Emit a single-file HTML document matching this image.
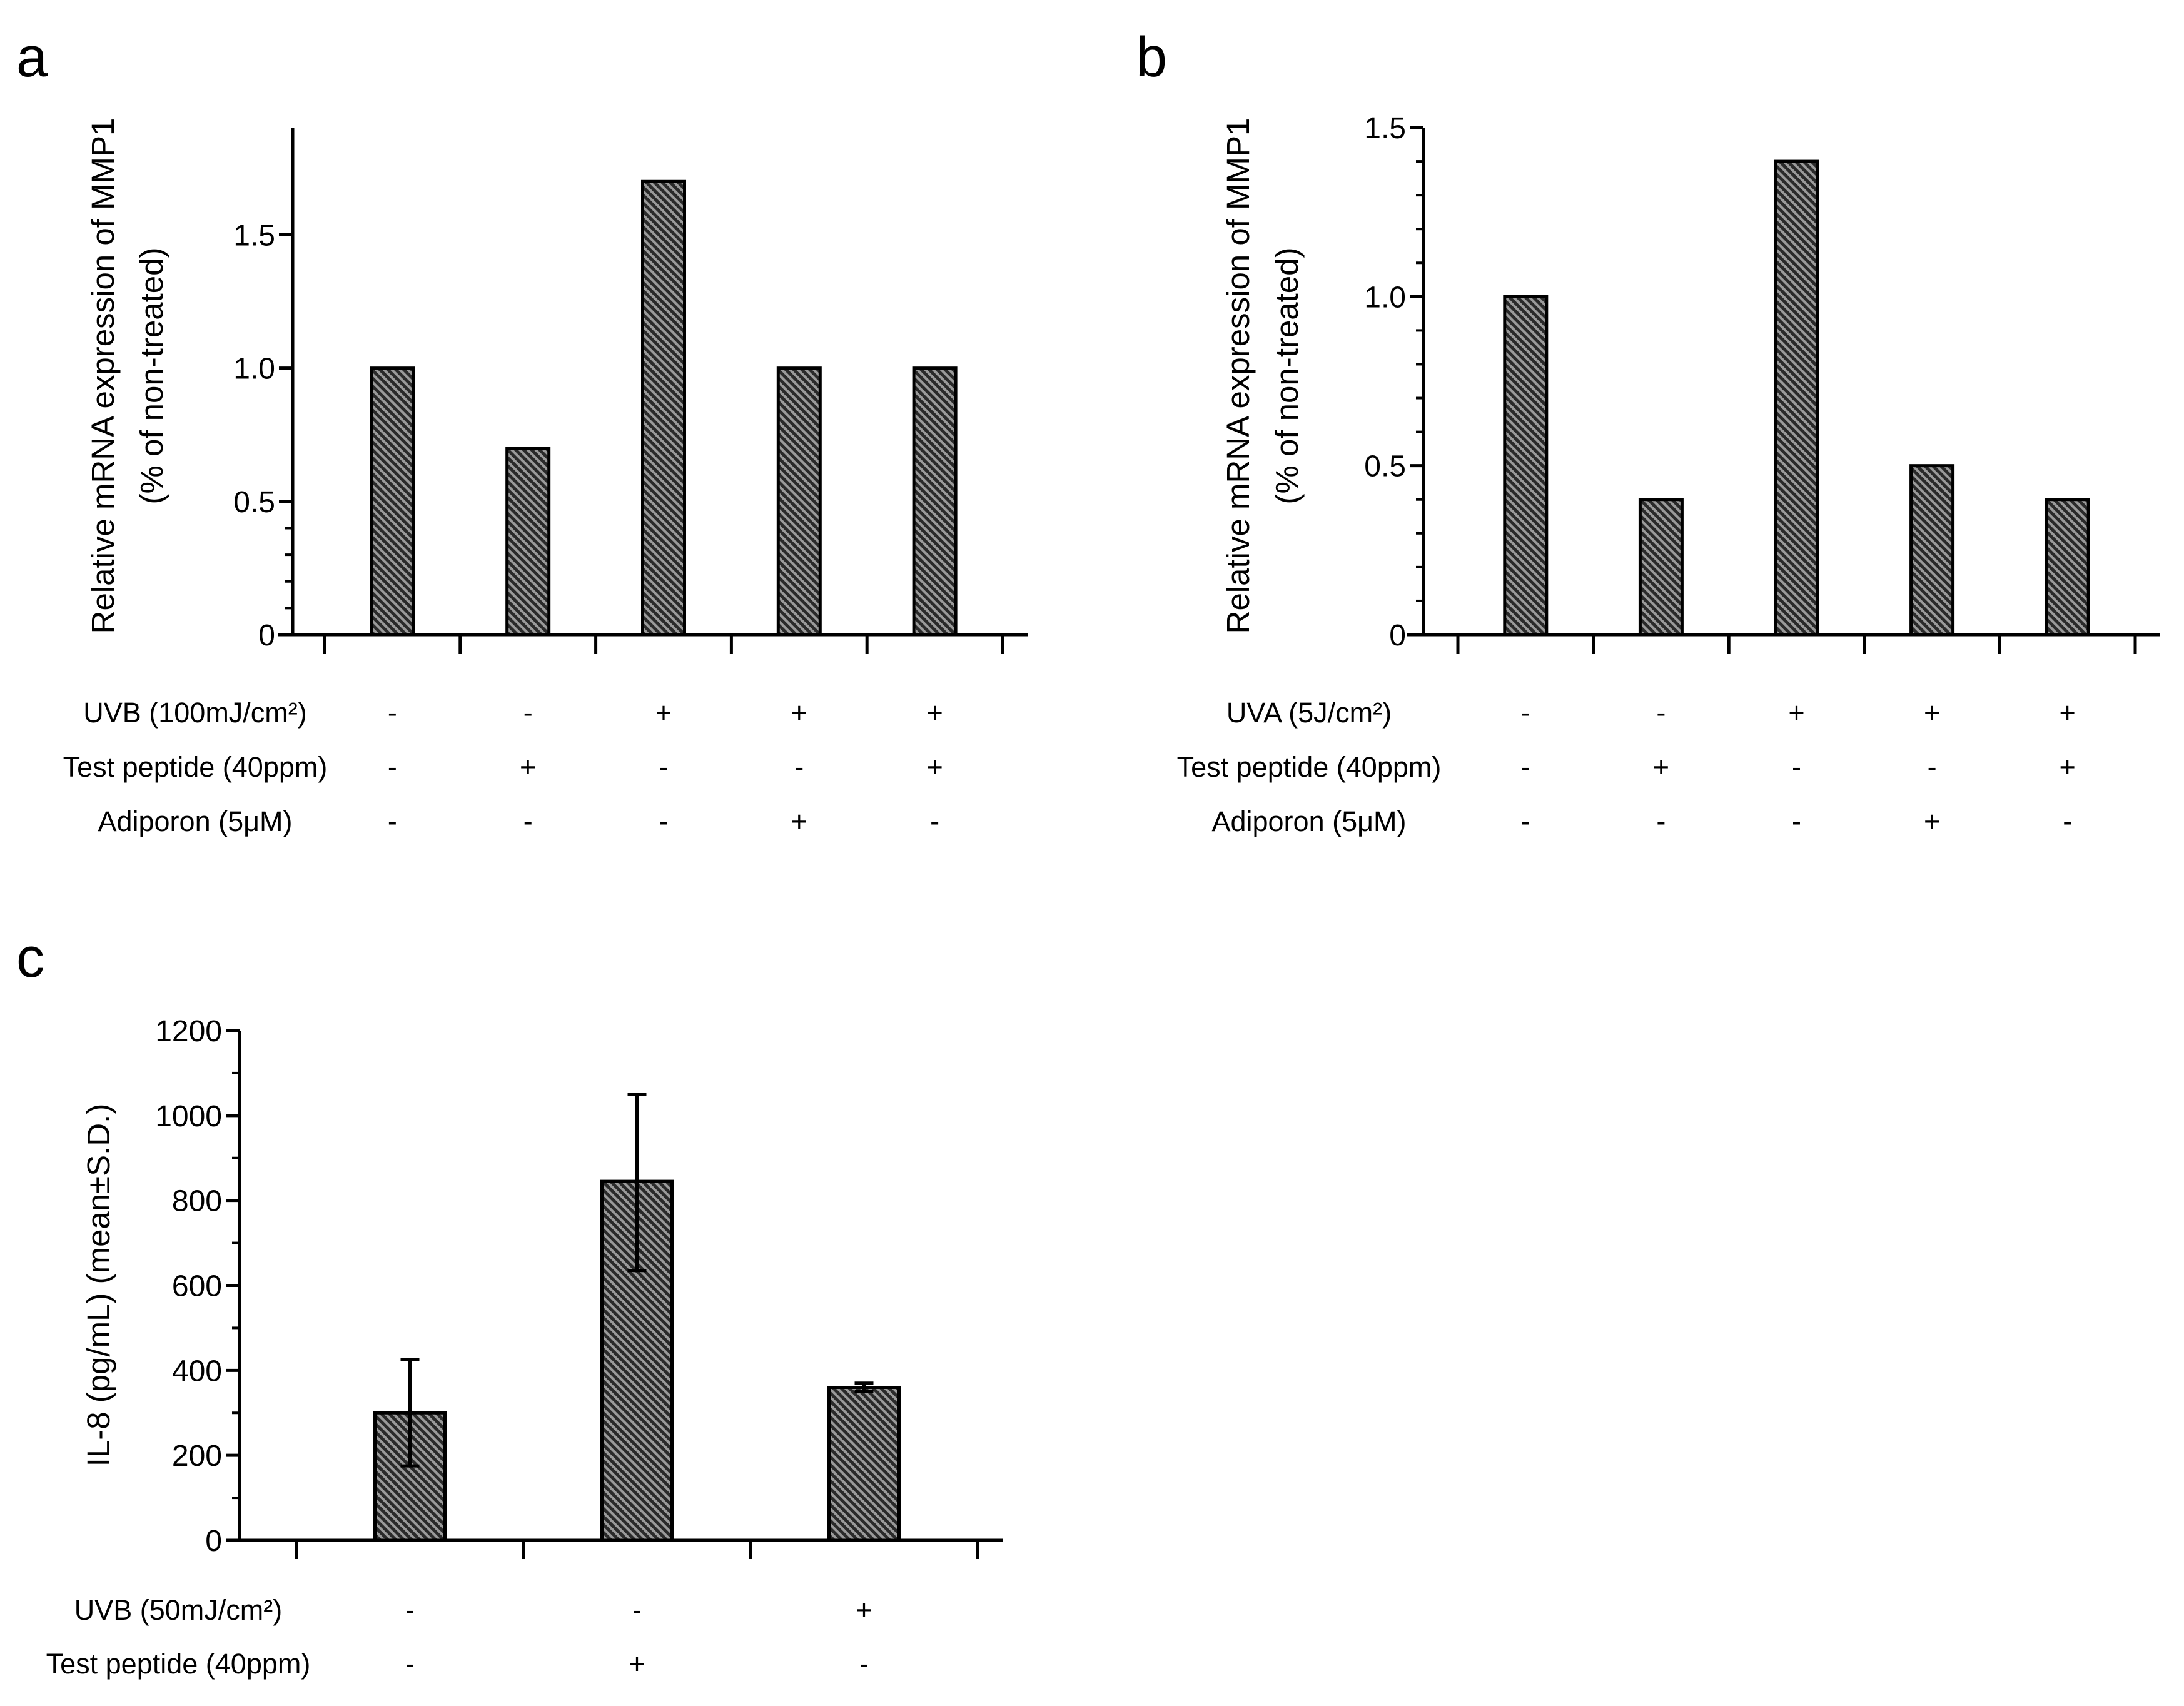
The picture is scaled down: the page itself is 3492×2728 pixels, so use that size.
<!DOCTYPE html>
<html><head><meta charset="utf-8"><style>
body{margin:0;background:#fff}
svg{display:block;font-family:"Liberation Sans",sans-serif}
</style></head><body>
<svg id="fig" width="3492" height="2728" viewBox="0 0 3492 2728" xmlns="http://www.w3.org/2000/svg">
<defs>
<pattern id="hatch" patternUnits="userSpaceOnUse" width="9" height="9" patternTransform="rotate(-45)">
<rect width="9" height="9" fill="#9a9a9a"/>
<rect width="5" height="9" fill="#2a2a2a"/>
</pattern>
</defs>
<text x="26" y="122" font-size="90">a</text>
<text x="1816" y="122" font-size="90">b</text>
<text x="26" y="1562" font-size="90">c</text>
<g id="pa"></g><g id="pb"></g><g id="pc"></g>
</svg>
<script>
const aValues=[1.0,0.7,1.7,1.0,1.0];
const aTicks=[0,0.5,1.0,1.5];
const aTickLabels=["0","0.5","1.0","1.5"];
const aRows=[["UVB (100mJ/cm²)",["-","-","+","+","+"]],["Test peptide (40ppm)",["-","+","-","-","+"]],["Adiporon (5μM)",["-","-","-","+","-"]]];
const bValues=[1.0,0.4,1.4,0.5,0.4];
const bTicks=[0,0.5,1.0,1.5];
const bTickLabels=["0","0.5","1.0","1.5"];
const bRows=[["UVA (5J/cm²)",["-","-","+","+","+"]],["Test peptide (40ppm)",["-","+","-","-","+"]],["Adiporon (5μM)",["-","-","-","+","-"]]];
const cValues=[300,845,360];
const cErrLow=[175,635,350];
const cErrHigh=[425,1050,370];
const cTicks=[0,200,400,600,800,1000,1200];
const cTickLabels=["0","200","400","600","800","1000","1200"];
const cRows=[["UVB (50mJ/cm²)",["-","-","+"]],["Test peptide (40ppm)",["-","+","-"]]];
const NS="http://www.w3.org/2000/svg";
function mk(p,tag,at,txt){const e=document.createElementNS(NS,tag);for(const k in at)e.setAttribute(k,at[k]);if(txt!==undefined)e.textContent=txt;p.appendChild(e);return e;}
function panel(gid,o){
 const g=document.getElementById(gid);
 const y=v=>o.y0-(v/o.vmax)*(o.y0-o.ytop);
 const step=(o.x1-o.tick0)/o.n;
 const cx=i=>o.tick0+step*(i+0.5);
 let ax=mk(g,'line',{x1:o.ax,y1:o.ytop,x2:o.ax,y2:o.y0+2,stroke:'#000','stroke-width':5});
 
 let xa=mk(g,'line',{x1:o.xa0,y1:o.y0,x2:o.x1+40,y2:o.y0,stroke:'#000','stroke-width':5});
 
 for(let i=0;i<=o.n;i++){const t=mk(g,'line',{x1:o.tick0+step*i,y1:o.y0,x2:o.tick0+step*i,y2:o.y0+30,stroke:'#000','stroke-width':5});
  }
 o.ticks.forEach((v,i)=>{mk(g,'line',{x1:o.ax-22,y1:y(v),x2:o.ax,y2:y(v),stroke:'#000','stroke-width':5});
  const l=mk(g,'text',{x:o.ax-28,y:y(v)+17,'font-size':48,'text-anchor':'end'},o.labels[i]);
  });
 o.minor.forEach(v=>mk(g,'line',{x1:o.ax-12,y1:y(v),x2:o.ax,y2:y(v),stroke:'#000','stroke-width':4}));
 o.values.forEach((v,i)=>{const r=mk(g,'rect',{x:cx(i)-o.bw/2,y:y(v),width:o.bw,height:o.y0-y(v),fill:'url(#hatch)',stroke:'#000','stroke-width':5});
  
  if(o.lo){const eb=mk(g,'path',{d:`M${cx(i)} ${y(o.lo[i])}V${y(o.hi[i])}M${cx(i)-15} ${y(o.hi[i])}H${cx(i)+15}M${cx(i)-15} ${y(o.lo[i])}H${cx(i)+15}`,stroke:'#000','stroke-width':5,fill:'none'});
   }});
 const tl=mk(g,'text',{'font-size':51,'text-anchor':'middle',transform:`translate(${o.ylx},${o.yly}) rotate(-90)`});
 o.ylab.forEach((s,k)=>{mk(tl,'tspan',{x:0,dy:k?78:0},s);});
 
 o.rows.forEach((r,k)=>{const ry=o.row0+k*o.rowh;
  const lab=mk(g,'text',{x:o.rlx,y:ry,'font-size':45,'text-anchor':'middle'},r[0]);
  
  r[1].forEach((s,i)=>{const t=mk(g,'text',{x:cx(i),y:ry,'font-size':45,'text-anchor':'middle'},s);
   });});
}
panel('pa',{ax:468,ytop:205,y0:1015,vmax:1.9,xa0:445,tick0:519,x1:1603,n:5,bw:67,values:aValues,ticks:aTicks,labels:aTickLabels,minor:[0.1,0.2,0.3,0.4],ylx:182,yly:601,ylab:["Relative mRNA expression of MMP1","(% of non-treated)"],rows:aRows,rlx:312,row0:1155,rowh:87});
panel('pb',{ax:2276,ytop:204,y0:1015,vmax:1.5,xa0:2250,tick0:2331,x1:3414,n:5,bw:67,values:bValues,ticks:bTicks,labels:bTickLabels,minor:[0.1,0.2,0.3,0.4,0.6,0.7,0.8,0.9,1.1,1.2,1.3,1.4],ylx:1997,yly:601,ylab:["Relative mRNA expression of MMP1","(% of non-treated)"],rows:bRows,rlx:2093,row0:1155,rowh:87});
panel('pc',{ax:383,ytop:1648,y0:2463,vmax:1200,xa0:361,tick0:474,x1:1563,n:3,bw:112,values:cValues,lo:cErrLow,hi:cErrHigh,ticks:cTicks,labels:cTickLabels,minor:[100,300,500,700,900,1100],ylx:175,yly:2055,ylab:["IL-8 (pg/mL) (mean±S.D.)"],rows:cRows,rlx:285,row0:2590,rowh:86});
</script>
</body></html>
